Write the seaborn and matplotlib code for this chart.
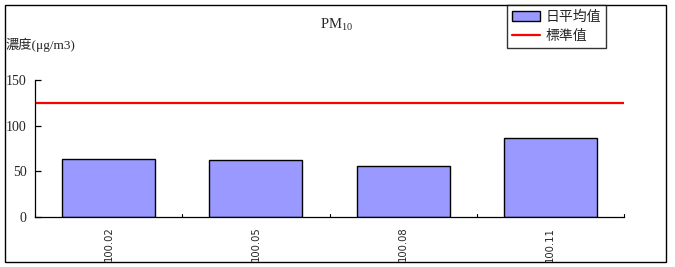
import matplotlib
matplotlib.use("Agg")
import matplotlib.pyplot as plt
import seaborn as sns
from matplotlib.patches import Rectangle

categories = ["100.02", "100.05", "100.08", "100.11"]
daily_avg = [63, 62, 55.5, 86]
standard = 125
yticks = [0, 50, 100, 150]

sns.set_style("white")
plt.rcParams['font.family'] = ['Liberation Serif', 'Noto Sans CJK TC', 'DejaVu Sans']
plt.rcParams['mathtext.fontset'] = 'custom'
plt.rcParams['mathtext.rm'] = 'Liberation Serif'
plt.rcParams['mathtext.it'] = 'Liberation Serif'
plt.rcParams['ytick.left'] = True

fig = plt.figure(figsize=(6.75, 2.67), dpi=100)
ax = fig.add_axes([35/675, 1-217/267, (624-35)/675, (217-80)/267])

sns.barplot(x=categories, y=daily_avg, color="#9999FF", edgecolor="black",
            linewidth=1.0, width=0.63, saturation=1, ax=ax, label="日平均值")
ax.axhline(standard, color="#FF0000", lw=1.6, label="標準值")
if ax.get_legend() is not None:
    ax.get_legend().remove()

ax.set_xlim(-0.5, len(categories) - 0.5)
ax.set_ylim(0, 150)
ax.set_yticks(yticks)
ax.set_yticklabels([str(v) for v in yticks], fontsize=10)
ax.set_xticks(range(len(categories)))
ax.set_xticklabels(categories, rotation=90, fontsize=7.2,
                   family=['DejaVu Sans'])
ax.tick_params(axis='x', length=0, pad=7)
ax.tick_params(axis='y', direction='in', length=4, width=0.9, pad=6,
               left=True, color='black')
for i in range(len(categories) + 1):
    ax.plot([i - 0.5, i - 0.5], [0, 3], color='black', lw=0.8, clip_on=False)
ax.set_xlabel("")
ax.set_ylabel("")
for s in ["top", "right"]:
    ax.spines[s].set_visible(False)
for s in ["left", "bottom"]:
    ax.spines[s].set_color("black")
    ax.spines[s].set_linewidth(0.9)

fig.text(337/675, 1-25/267, r"PM$_{10}$", ha="center", va="center", fontsize=10.5)
fig.text(6/675, 1-45/267, "濃度(μg/m3)", ha="left", va="center", fontsize=9.5,
         family=['Liberation Serif', 'Noto Sans CJK TC'])

handles, labels = ax.get_legend_handles_labels()
order = [labels.index("日平均值"), labels.index("標準值")]
leg = fig.legend([handles[i] for i in order], [labels[i] for i in order],
                 loc="upper left", bbox_to_anchor=(507/675, 1-5/267),
                 frameon=True, fancybox=False, edgecolor="black",
                 prop={'family': ['Noto Sans CJK TC'], 'size': 10},
                 borderpad=0.35, labelspacing=0.35, handlelength=2.0,
                 handletextpad=0.4, borderaxespad=0)
leg.get_frame().set_linewidth(1.0)

fig.patches.append(Rectangle((5/675, 5/267), (666-5)/675, (262-5)/267,
                             transform=fig.transFigure, fill=False,
                             edgecolor="black", lw=1.0))

fig.savefig("out.png", dpi=100)
